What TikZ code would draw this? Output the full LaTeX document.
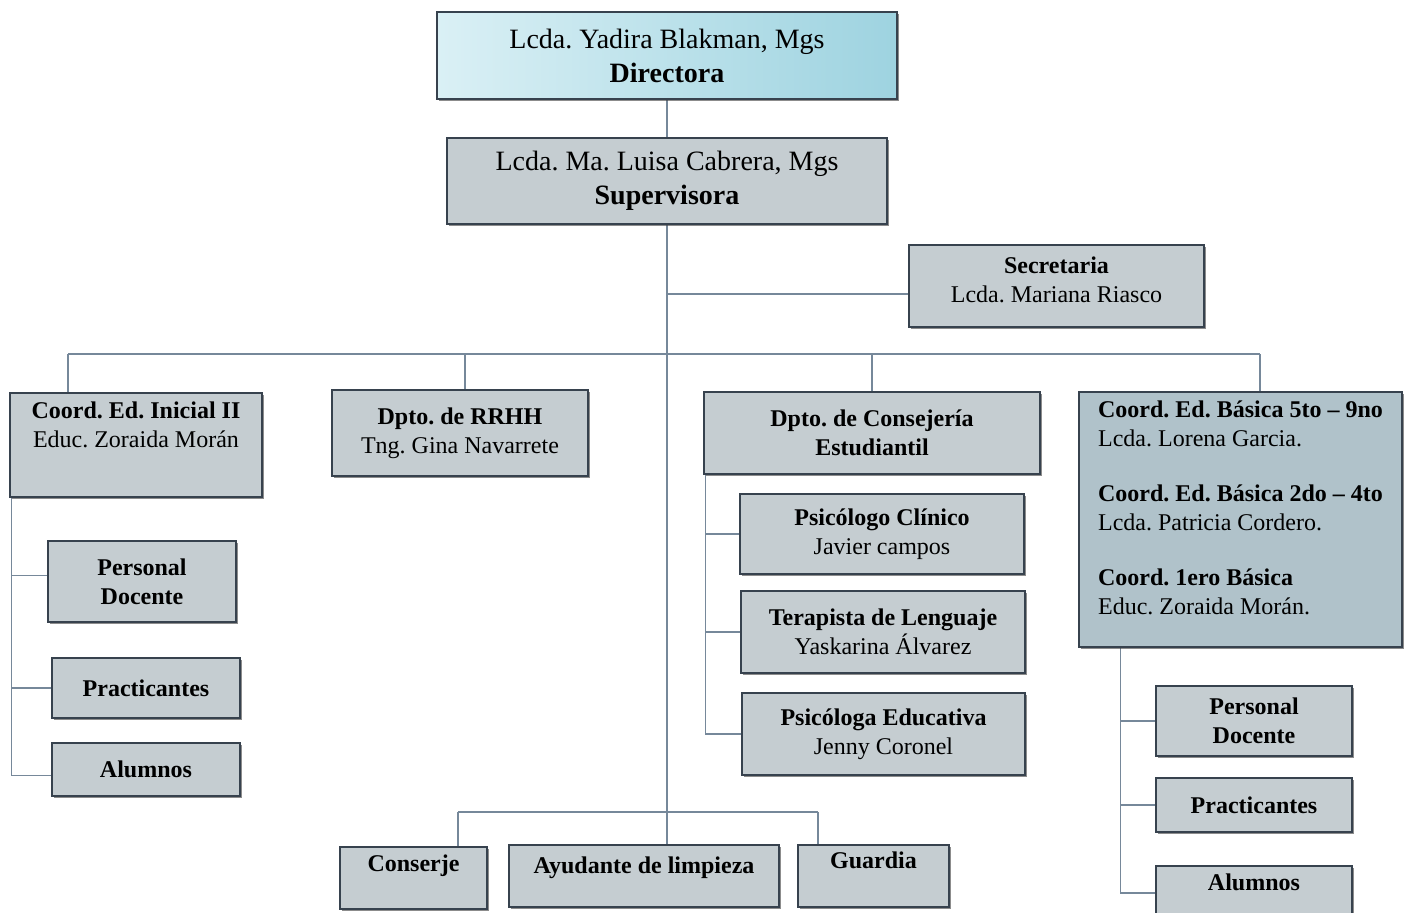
\documentclass[tikz,border=0pt]{standalone}
\usepackage{fontspec}
\setmainfont{Liberation Serif}
\usetikzlibrary{shadows,backgrounds}

\definecolor{boxgray}{RGB}{197,205,209}
\definecolor{boxblue}{RGB}{176,194,202}
\definecolor{edgecol}{RGB}{55,66,78}
\definecolor{linecol}{RGB}{118,136,154}
\definecolor{cyanlight}{RGB}{218,240,245}
\definecolor{cyandark}{RGB}{158,211,224}

\begin{document}
\frenchspacing
\begin{tikzpicture}[x=0.5pt, y=-0.5pt,
    box/.style={draw=edgecol, line width=0.6pt, fill=boxgray, align=center,
      inner sep=2pt, font=\fontsize{12}{14.5}\selectfont,
      drop shadow={shadow xshift=1.1pt, shadow yshift=-1.1pt, fill=black!75, opacity=0.6}},
    bigbox/.style={box, font=\fontsize{14}{17}\selectfont},
    link/.style={draw=linecol, line width=0.8pt}]
  \useasboundingbox (0,0) rectangle (1404,912);

  \node[bigbox, left color=cyanlight, right color=cyandark, minimum width=230pt, minimum height=43.5pt]
    (dir) at (667,55.5) {Lcda. Yadira Blakman, Mgs\\ \textbf{Directora}};
  \node[bigbox, minimum width=220pt, minimum height=43pt]
    (sup) at (667,181) {Lcda. Ma. Luisa Cabrera, Mgs\\ \textbf{Supervisora}};
  \node[box, minimum width=147.5pt, minimum height=41pt, text depth=6pt]
    (sec) at (1056.5,286) {\textbf{Secretaria}\\ Lcda. Mariana Riasco};

  \node[box, minimum width=126pt, minimum height=52pt, text depth=20pt]
    (ini) at (136,445) {\textbf{Coord. Ed. Inicial II}\\ Educ. Zoraida Morán};
  \node[box, minimum width=128pt, minimum height=43pt]
    (rrhh) at (460,433) {\textbf{Dpto. de RRHH}\\ Tng. Gina Navarrete};
  \node[box, minimum width=168pt, minimum height=41pt]
    (cons) at (872,433) {\textbf{Dpto. de Consejería}\\ \textbf{Estudiantil}};
  \node[box, fill=boxblue, align=left, minimum width=161.5pt, minimum height=127.5pt, text depth=12pt]
    (bas) at (1240.5,519.5) {\textbf{Coord. Ed. Básica 5to – 9no}\\ Lcda. Lorena Garcia.\\[13pt]
      \textbf{Coord. Ed. Básica 2do – 4to}\\ Lcda. Patricia Cordero.\\[13pt]
      \textbf{Coord. 1ero Básica}\\ Educ. Zoraida Morán.};

  \node[box, minimum width=94pt, minimum height=40.5pt] (pd1) at (142,581.5) {\textbf{Personal}\\ \textbf{Docente}};
  \node[box, minimum width=94pt, minimum height=30pt] (pr1) at (146,688) {\textbf{Practicantes}};
  \node[box, minimum width=94pt, minimum height=26.5pt] (al1) at (146,769.5) {\textbf{Alumnos}};

  \node[box, minimum width=142pt, minimum height=40pt] (psc) at (882,534) {\textbf{Psicólogo Clínico}\\ Javier campos};
  \node[box, minimum width=142pt, minimum height=41pt] (ter) at (883,632) {\textbf{Terapista de Lenguaje}\\ Yaskarina Álvarez};
  \node[box, minimum width=141.5pt, minimum height=41pt] (pse) at (883.5,734) {\textbf{Psicóloga Educativa}\\ Jenny Coronel};

  \node[box, minimum width=98pt, minimum height=35pt] (pd2) at (1254,721) {\textbf{Personal}\\ \textbf{Docente}};
  \node[box, minimum width=98pt, minimum height=27pt] (pr2) at (1254,805) {\textbf{Practicantes}};
  \node[box, minimum width=98pt, minimum height=27pt, text depth=11pt] (al2) at (1254,893) {\textbf{Alumnos}};

  \node[box, minimum width=73.5pt, minimum height=31pt, text depth=15pt] (con) at (413.5,878) {\textbf{Conserje}};
  \node[box, minimum width=135pt, minimum height=31pt, text depth=11pt] (ayu) at (644,876) {\textbf{Ayudante de limpieza}};
  \node[box, minimum width=75.5pt, minimum height=31pt, text depth=16pt] (gua) at (873.5,876) {\textbf{Guardia}};

  \coordinate (busl) at (68,354);
  \coordinate (busr) at (1260,354);
  \coordinate (botl) at (458,812);
  \coordinate (botr) at (818,812);

  \begin{pgfonlayer}{background}
  \draw[link] (dir.south) -- (dir.south |- ayu.north);
  \draw[link] (dir.south |- sec.west) ++(0,8) -- ([yshift=-4pt]sec.west);
  \draw[link] (busl) -- (busr);
  \draw[link] (busl) -- (busl |- ini.north);
  \draw[link] ([xshift=2.5pt]rrhh.north |- busl) -- ([xshift=2.5pt]rrhh.north);
  \draw[link] (cons.north |- busl) -- (cons.north);
  \draw[link] (busr) -- (busr |- bas.north);
  \draw[link] (botl) -- (botr);
  \draw[link] (botl) -- (botl |- con.north);
  \draw[link] (botr) -- (botr |- gua.north);

  \draw[link] ([xshift=1pt]ini.south west) |- ([yshift=3pt]pd1.west);
  \draw[link] ([xshift=1pt]ini.south west) |- (pr1.west);
  \draw[link] ([xshift=1pt]ini.south west) |- ([yshift=-3pt]al1.west);

  \draw[link] ([xshift=1pt]cons.south west) |- (psc.west);
  \draw[link] ([xshift=1pt]cons.south west) |- (ter.west);
  \draw[link] ([xshift=1pt]cons.south west) |- (pse.west);

  \draw[link] ([xshift=21pt]bas.south west) |- (pd2.west);
  \draw[link] ([xshift=21pt]bas.south west) |- (pr2.west);
  \draw[link] ([xshift=21pt]bas.south west) |- (al2.west);
  \end{pgfonlayer}
\end{tikzpicture}
\end{document}
